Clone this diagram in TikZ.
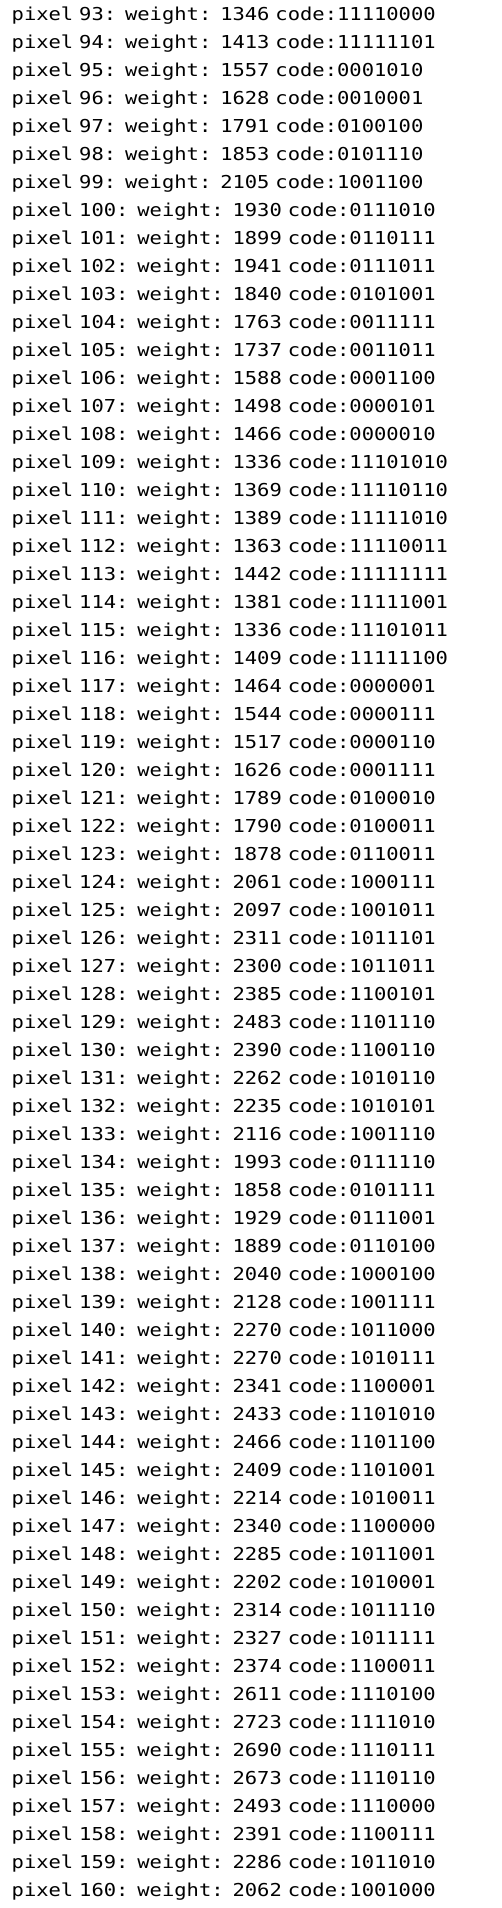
\documentclass[tikz,border=0pt]{standalone}
\usepackage{fontspec}
\newfontfamily\codefont[FakeStretch=1.15]{DejaVu Sans Mono}
\newcommand\monospacing{\spaceskip=\fontcharwd\font`\0\relax\xspaceskip=\spaceskip}
\usepackage{tikz}
\tikzstyle{entry} = [rectangle, inner sep=0pt, text width=480pt, align=left, text height=14pt, text depth=5pt, text=black, font=\codefont\fontsize{17.8pt}{20pt}\selectfont\monospacing]

\begin{document}
\begin{tikzpicture}[node distance=28pt]
\useasboundingbox (0,0) rectangle (502pt,-1908pt);

\node(p93)[entry, anchor=base west] at (11.5pt,-20.7pt) {pixel 93: weight: 1346 code:11110000};
\node(p94)[entry, below of=p93]{pixel 94: weight: 1413 code:11111101};
\node(p95)[entry, below of=p94]{pixel 95: weight: 1557 code:0001010};
\node(p96)[entry, below of=p95]{pixel 96: weight: 1628 code:0010001};
\node(p97)[entry, below of=p96]{pixel 97: weight: 1791 code:0100100};
\node(p98)[entry, below of=p97]{pixel 98: weight: 1853 code:0101110};
\node(p99)[entry, below of=p98]{pixel 99: weight: 2105 code:1001100};
\node(p100)[entry, below of=p99]{pixel 100: weight: 1930 code:0111010};
\node(p101)[entry, below of=p100]{pixel 101: weight: 1899 code:0110111};
\node(p102)[entry, below of=p101]{pixel 102: weight: 1941 code:0111011};
\node(p103)[entry, below of=p102]{pixel 103: weight: 1840 code:0101001};
\node(p104)[entry, below of=p103]{pixel 104: weight: 1763 code:0011111};
\node(p105)[entry, below of=p104]{pixel 105: weight: 1737 code:0011011};
\node(p106)[entry, below of=p105]{pixel 106: weight: 1588 code:0001100};
\node(p107)[entry, below of=p106]{pixel 107: weight: 1498 code:0000101};
\node(p108)[entry, below of=p107]{pixel 108: weight: 1466 code:0000010};
\node(p109)[entry, below of=p108]{pixel 109: weight: 1336 code:11101010};
\node(p110)[entry, below of=p109]{pixel 110: weight: 1369 code:11110110};
\node(p111)[entry, below of=p110]{pixel 111: weight: 1389 code:11111010};
\node(p112)[entry, below of=p111]{pixel 112: weight: 1363 code:11110011};
\node(p113)[entry, below of=p112]{pixel 113: weight: 1442 code:11111111};
\node(p114)[entry, below of=p113]{pixel 114: weight: 1381 code:11111001};
\node(p115)[entry, below of=p114]{pixel 115: weight: 1336 code:11101011};
\node(p116)[entry, below of=p115]{pixel 116: weight: 1409 code:11111100};
\node(p117)[entry, below of=p116]{pixel 117: weight: 1464 code:0000001};
\node(p118)[entry, below of=p117]{pixel 118: weight: 1544 code:0000111};
\node(p119)[entry, below of=p118]{pixel 119: weight: 1517 code:0000110};
\node(p120)[entry, below of=p119]{pixel 120: weight: 1626 code:0001111};
\node(p121)[entry, below of=p120]{pixel 121: weight: 1789 code:0100010};
\node(p122)[entry, below of=p121]{pixel 122: weight: 1790 code:0100011};
\node(p123)[entry, below of=p122]{pixel 123: weight: 1878 code:0110011};
\node(p124)[entry, below of=p123]{pixel 124: weight: 2061 code:1000111};
\node(p125)[entry, below of=p124]{pixel 125: weight: 2097 code:1001011};
\node(p126)[entry, below of=p125]{pixel 126: weight: 2311 code:1011101};
\node(p127)[entry, below of=p126]{pixel 127: weight: 2300 code:1011011};
\node(p128)[entry, below of=p127]{pixel 128: weight: 2385 code:1100101};
\node(p129)[entry, below of=p128]{pixel 129: weight: 2483 code:1101110};
\node(p130)[entry, below of=p129]{pixel 130: weight: 2390 code:1100110};
\node(p131)[entry, below of=p130]{pixel 131: weight: 2262 code:1010110};
\node(p132)[entry, below of=p131]{pixel 132: weight: 2235 code:1010101};
\node(p133)[entry, below of=p132]{pixel 133: weight: 2116 code:1001110};
\node(p134)[entry, below of=p133]{pixel 134: weight: 1993 code:0111110};
\node(p135)[entry, below of=p134]{pixel 135: weight: 1858 code:0101111};
\node(p136)[entry, below of=p135]{pixel 136: weight: 1929 code:0111001};
\node(p137)[entry, below of=p136]{pixel 137: weight: 1889 code:0110100};
\node(p138)[entry, below of=p137]{pixel 138: weight: 2040 code:1000100};
\node(p139)[entry, below of=p138]{pixel 139: weight: 2128 code:1001111};
\node(p140)[entry, below of=p139]{pixel 140: weight: 2270 code:1011000};
\node(p141)[entry, below of=p140]{pixel 141: weight: 2270 code:1010111};
\node(p142)[entry, below of=p141]{pixel 142: weight: 2341 code:1100001};
\node(p143)[entry, below of=p142]{pixel 143: weight: 2433 code:1101010};
\node(p144)[entry, below of=p143]{pixel 144: weight: 2466 code:1101100};
\node(p145)[entry, below of=p144]{pixel 145: weight: 2409 code:1101001};
\node(p146)[entry, below of=p145]{pixel 146: weight: 2214 code:1010011};
\node(p147)[entry, below of=p146]{pixel 147: weight: 2340 code:1100000};
\node(p148)[entry, below of=p147]{pixel 148: weight: 2285 code:1011001};
\node(p149)[entry, below of=p148]{pixel 149: weight: 2202 code:1010001};
\node(p150)[entry, below of=p149]{pixel 150: weight: 2314 code:1011110};
\node(p151)[entry, below of=p150]{pixel 151: weight: 2327 code:1011111};
\node(p152)[entry, below of=p151]{pixel 152: weight: 2374 code:1100011};
\node(p153)[entry, below of=p152]{pixel 153: weight: 2611 code:1110100};
\node(p154)[entry, below of=p153]{pixel 154: weight: 2723 code:1111010};
\node(p155)[entry, below of=p154]{pixel 155: weight: 2690 code:1110111};
\node(p156)[entry, below of=p155]{pixel 156: weight: 2673 code:1110110};
\node(p157)[entry, below of=p156]{pixel 157: weight: 2493 code:1110000};
\node(p158)[entry, below of=p157]{pixel 158: weight: 2391 code:1100111};
\node(p159)[entry, below of=p158]{pixel 159: weight: 2286 code:1011010};
\node(p160)[entry, below of=p159]{pixel 160: weight: 2062 code:1001000};
\end{tikzpicture}
\end{document}
